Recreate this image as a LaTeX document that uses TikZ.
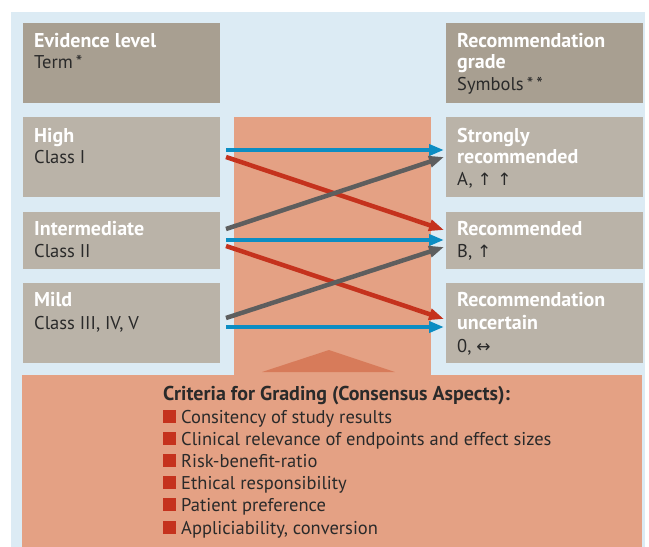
\documentclass[tikz,border=0pt]{standalone}
\usepackage{fontspec}
\setmainfont{PT Sans}
\newfontfamily\symf{DejaVu Sans}
\usetikzlibrary{arrows.meta}
\definecolor{bgblue}{HTML}{DCEBF4}
\definecolor{headbox}{HTML}{A89F91}
\definecolor{lvlbox}{HTML}{BAB3A8}
\definecolor{salmon}{HTML}{E4A184}
\definecolor{salmondark}{HTML}{D77B5A}
\definecolor{arrblue}{HTML}{0C8DC3}
\definecolor{arrred}{HTML}{C5321D}
\definecolor{arrgray}{HTML}{5E5E5E}
\definecolor{darktext}{HTML}{2A2A2A}
\tikzset{
  boxshape/.style={rectangle, inner sep=0pt, outer sep=0pt, anchor=north west},
  headstyle/.style={boxshape, fill=headbox},
  lvlstyle/.style={boxshape, fill=lvlbox},
  ttl/.style={anchor=base west, inner sep=0pt, text=white, font=\fontsize{20}{22}\selectfont\bfseries},
  sub/.style={anchor=base west, inner sep=0pt, text=darktext, font=\fontsize{18.5}{22}\selectfont},
  conn/.style={line width=4.5pt, -{Triangle[length=15pt,width=11pt]}},
  bluearr/.style={conn, draw=arrblue},
  redarr/.style={conn, draw=arrred},
  grayarr/.style={conn, draw=arrgray},
  bul/.style={rectangle, fill=arrred, minimum size=13pt, inner sep=0pt, anchor=south west}
}
\newcommand{\arrsym}[1]{{\symf\fontsize{17}{22}\selectfont #1}}
\begin{document}
\begin{tikzpicture}[x=1pt,y=-1pt]
\useasboundingbox (0,0) rectangle (649,547);
\fill[white] (0,0) rectangle (649,547);
\fill[bgblue] (11,12) rectangle (645,547);
% salmon areas
\fill[salmon] (234,117) rectangle (431,376);
\fill[salmon] (22,375) rectangle (642,547);
\fill[salmondark] (262,372) -- (329,350) -- (395,372) -- cycle;
% boxes
\node[headstyle, minimum width=197pt, minimum height=80pt] (ev) at (23,23) {};
\node[lvlstyle, minimum width=197pt, minimum height=80pt] (high) at (23,117) {};
\node[lvlstyle, minimum width=197pt, minimum height=57pt] (inter) at (23,212) {};
\node[lvlstyle, minimum width=197pt, minimum height=80pt] (mild) at (23,283) {};
\node[headstyle, minimum width=197pt, minimum height=80pt] (rg) at (446,23) {};
\node[lvlstyle, minimum width=197pt, minimum height=80pt] (strong) at (446,117) {};
\node[lvlstyle, minimum width=197pt, minimum height=57pt] (rec) at (446,212) {};
\node[lvlstyle, minimum width=197pt, minimum height=80pt] (unc) at (446,283) {};
% left texts
\node[ttl] (evt1) at (34,47) {Evidence level};
\node[sub] (evt2) at (34,68) {Term\,*};
\node[ttl] (hit1) at (34,142) {High};
\node[sub] (hit2) at (34,163) {Class I};
\node[ttl] (int1) at (34,235) {Intermediate};
\node[sub] (int2) at (34,257) {Class II};
\node[ttl] (mit1) at (34,306) {Mild};
\node[sub] (mit2) at (34,329) {Class III, IV, V};
% right texts
\node[ttl] (rgt1) at (457,47) {Recommendation};
\node[ttl] (rgt2) at (457,68) {grade};
\node[sub] (rgt3) at (457,90) {Symbols\,*\,*};
\node[ttl] (stt1) at (457,142) {Strongly};
\node[ttl] (stt2) at (457,163) {recommended};
\node[sub] (stt3) at (457,185) {A, \arrsym{↑ ↑}};
\node[ttl] (ret1) at (457,235) {Recommended};
\node[sub] (ret2) at (457,257) {B, \arrsym{↑}};
\node[ttl] (unt1) at (457,306) {Recommendation};
\node[ttl] (unt2) at (457,329) {uncertain};
\node[sub] (unt3) at (457,352) {0, \arrsym{↔}};
% connector end points
\coordinate (h1) at (226,150); \coordinate (h2) at (226,157);
\coordinate (i1) at (226,229); \coordinate (i2) at (226,240); \coordinate (i3) at (226,246);
\coordinate (m1) at (226,318); \coordinate (m2) at (226,327);
\coordinate (s1) at (444,150); \coordinate (s2) at (444,157);
\coordinate (r1) at (444,230); \coordinate (r2) at (444,240); \coordinate (r3) at (444,247);
\coordinate (u1) at (444,319); \coordinate (u2) at (444,327);
\draw[bluearr] (h1) -- (s1);
\draw[bluearr] (i2) -- (r2);
\draw[bluearr] (m2) -- (u2);
\draw[redarr] (h2) -- (r1);
\draw[redarr] (i3) -- (u1);
\draw[grayarr] (i1) -- (s2);
\draw[grayarr] (m1) -- (r3);
% criteria
\node[anchor=base west, inner sep=0pt, text=darktext, font=\fontsize{20}{22}\selectfont\bfseries] (crit) at (163,400) {Criteria for Grading (Consensus Aspects):};
\node[bul] (b1) at (163,423) {};
\node[sub] (c1) at (181,423) {Consitency of study results};
\node[bul] (b2) at (163,445) {};
\node[sub] (c2) at (181,445) {Clinical relevance of endpoints and effect sizes};
\node[bul] (b3) at (163,467) {};
\node[sub] (c3) at (181,467) {Risk-benefit-ratio};
\node[bul] (b4) at (163,489) {};
\node[sub] (c4) at (181,489) {Ethical responsibility};
\node[bul] (b5) at (163,511) {};
\node[sub] (c5) at (181,511) {Patient preference};
\node[bul] (b6) at (163,534) {};
\node[sub] (c6) at (181,534) {Appliciability, conversion};
\end{tikzpicture}
\end{document}
